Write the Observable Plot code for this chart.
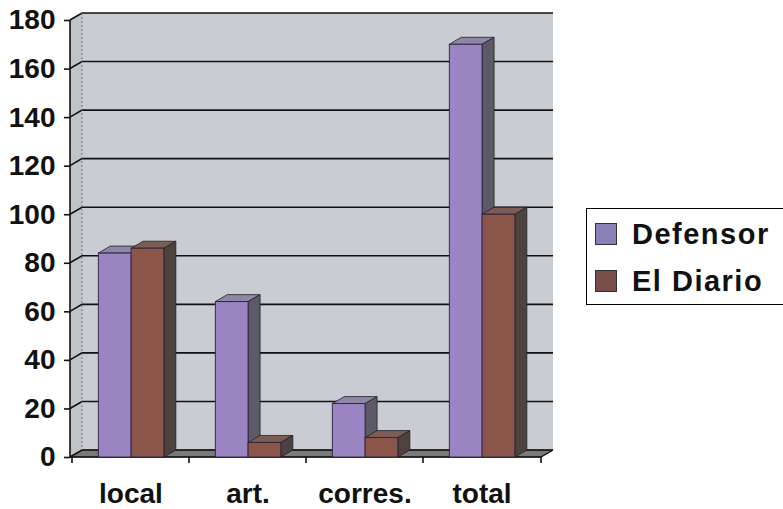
<!DOCTYPE html>
<html>
<head>
<meta charset="utf-8">
<script src="https://cdn.jsdelivr.net/npm/d3@7"></script>
<script src="https://cdn.jsdelivr.net/npm/@observablehq/plot@0.6"></script>
<style>
  html, body { margin: 0; padding: 0; background: #fff; overflow: hidden; }
  #wrap { position: relative; width: 783px; height: 509px; font-family: "Liberation Sans", Arial, sans-serif; }
  #legend { position: absolute; left: 586px; top: 208px; width: 220px; height: 97px; border: 1.5px solid #000; background: #fff; box-sizing: border-box; }
  .item { position: absolute; left: 0; height: 30px; }
  .sw { position: absolute; left: 8px; width: 22px; height: 22px; box-sizing: border-box; border: 1.5px solid #333; }
  .lab { position: absolute; left: 45px; font-size: 29px; font-weight: bold; line-height: 29px; letter-spacing: 1.5px; color: #111; white-space: nowrap; }
</style>
</head>
<body>
<div id="wrap"></div>
<script>
const categories = ["local", "art.", "corres.", "total"];
const series = ["Defensor", "El Diario"];
const defensor = [84, 64, 22, 170];
const elDiario = [86, 6, 8, 100];
const yTicks = [0, 20, 40, 60, 80, 100, 120, 140, 160, 180];

const frontColors = ["#9a85c2", "#8c5549"];
const topColors = ["#8f86a8", "#7c5d56"];
const sideColors = ["#5d5a68", "#4e423e"];

const table = [];
categories.forEach((c, i) => {
  table.push({category: c, series: series[0], value: defensor[i]});
  table.push({category: c, series: series[1], value: elDiario[i]});
});

const DX = 12, DY = -7;

function bandwidthOf(x, dim) {
  if (typeof x.bandwidth === "function") return x.bandwidth();
  if (typeof x.bandwidth === "number") return x.bandwidth;
  return (dim.width - dim.marginLeft - dim.marginRight) / categories.length;
}

function pts(a) { return a.map(p => p.join(",")).join(" "); }

function walls(index, scales, values, dim) {
  const {x, y} = scales;
  const L = dim.marginLeft, R = dim.width - dim.marginRight;
  const y0 = y(0), yTop = y(d3.max(yTicks));
  const g = d3.create("svg:g");
  g.append("polygon").attr("points", pts([[L + DX, yTop + DY], [R + DX, yTop + DY], [R + DX, y0 + DY], [L + DX, y0 + DY]])).attr("fill", "#c9ccd2");
  g.append("polygon").attr("points", pts([[L, yTop], [L + DX, yTop + DY], [L + DX, y0 + DY], [L, y0]])).attr("fill", "#bfc4c9");
  g.append("polygon").attr("points", pts([[L, y0], [R, y0], [R + DX, y0 + DY], [L + DX, y0 + DY]])).attr("fill", "#7a7a7a").attr("stroke", "#333").attr("stroke-width", 0.8);
  for (const t of yTicks) {
    const yy = y(t);
    g.append("polyline").attr("points", pts([[L, yy], [L + DX, yy + DY], [R + DX, yy + DY]])).attr("fill", "none").attr("stroke", "#111").attr("stroke-width", 1.6);
  }
  g.append("line").attr("x1", L + DX).attr("x2", L + DX).attr("y1", yTop + DY).attr("y2", y0 + DY).attr("stroke", "#666").attr("stroke-width", 0.8).attr("stroke-dasharray", "2,2");
  g.append("line").attr("x1", L).attr("x2", L).attr("y1", yTop).attr("y2", y0).attr("stroke", "#111").attr("stroke-width", 1.6);
  g.append("line").attr("x1", L).attr("x2", R).attr("y1", y0).attr("y2", y0).attr("stroke", "#111").attr("stroke-width", 1.6);
  g.append("line").attr("x1", R).attr("x2", R + DX).attr("y1", y0).attr("y2", y0 + DY).attr("stroke", "#111").attr("stroke-width", 1.2);
  const bounds = categories.map(c => x(c)).concat([R]);
  for (const b of bounds) {
    g.append("line").attr("x1", b).attr("x2", b).attr("y1", y0).attr("y2", y0 + 6).attr("stroke", "#111").attr("stroke-width", 1.6);
  }
  return g.node();
}

function bars3d(index, scales, values, dim) {
  const {x, y} = scales;
  const bw = bandwidthOf(x, dim);
  const g = d3.create("svg:g");
  for (const i of index) {
    const d = table[i];
    const s = series.indexOf(d.series);
    const x0 = x(d.category) + bw * 0.225 + s * bw * 0.28;
    const x1 = x0 + bw * 0.28;
    const yb = y(0), yt = y(d.value);
    g.append("polygon").attr("points", pts([[x0, yt], [x1, yt], [x1 + DX, yt + DY], [x0 + DX, yt + DY]]))
      .attr("fill", topColors[s]).attr("stroke", "#222").attr("stroke-width", 0.8);
    g.append("polygon").attr("points", pts([[x1, yt], [x1 + DX, yt + DY], [x1 + DX, yb + DY], [x1, yb]]))
      .attr("fill", sideColors[s]).attr("stroke", "#222").attr("stroke-width", 0.8);
    g.append("rect").attr("x", x0).attr("y", yt).attr("width", x1 - x0).attr("height", yb - yt)
      .attr("fill", values.fill ? values.fill[i] : frontColors[s]).attr("stroke", "#2a2040").attr("stroke-width", 0.9);
  }
  return g.node();
}

const chart = Plot.plot({
  width: 783,
  height: 509,
  marginLeft: 70,
  marginRight: 242,
  marginTop: 20,
  marginBottom: 52,
  style: {fontFamily: "'Liberation Sans', Arial, sans-serif", color: "#111", background: "#fff", overflow: "visible"},
  x: {domain: categories, padding: 0, label: null},
  y: {domain: [0, 180], label: null},
  color: {domain: series, range: frontColors},
  marks: [
    Plot.ruleY(yTicks, {y: d => d, render: walls}),
    Plot.barY(table, {x: "category", y: "value", fill: "series", render: bars3d}),
    Plot.axisY(yTicks, {tickSize: 6, tickPadding: 9, fontSize: 28, fontWeight: "bold", label: null, stroke: "#111", strokeWidth: 1.6}),
    Plot.axisX({tickSize: 0, tickPadding: 26, fontSize: 28, fontWeight: "bold", label: null})
  ]
});

const wrap = document.getElementById("wrap");
wrap.appendChild(chart);

const legend = document.createElement("div");
legend.id = "legend";
const legendSw = ["#8a80b8", "#7a4e48"];
series.forEach((s, i) => {
  const sw = document.createElement("div");
  sw.className = "sw";
  sw.style.top = (14 + i * 47) + "px";
  sw.style.background = legendSw[i];
  legend.appendChild(sw);
  const lab = document.createElement("div");
  lab.className = "lab";
  lab.style.top = (11 + i * 47) + "px";
  lab.textContent = s;
  legend.appendChild(lab);
});
wrap.appendChild(legend);
</script>
</body>
</html>
